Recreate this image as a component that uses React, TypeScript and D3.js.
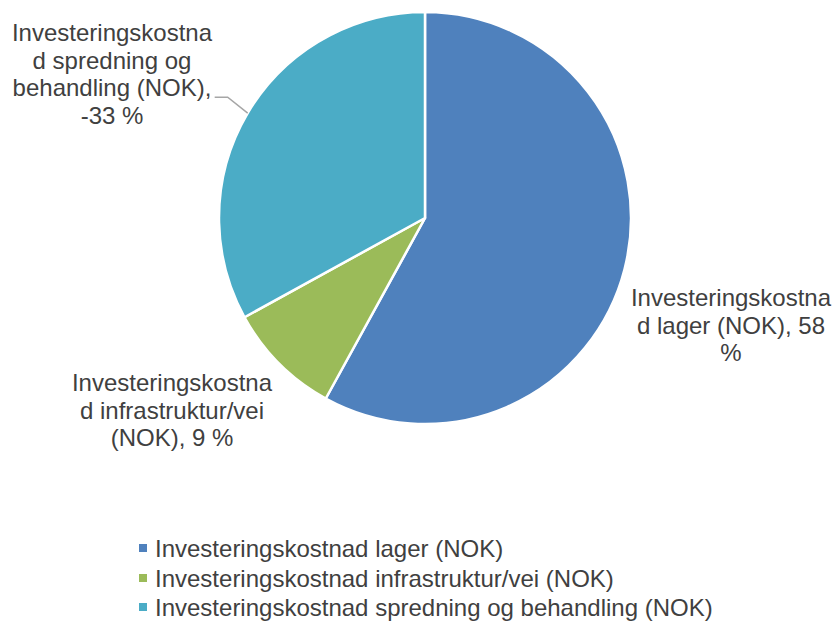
import React from "react";
import * as d3 from "d3";

const categories = [
  "Investeringskostnad lager (NOK)",
  "Investeringskostnad infrastruktur/vei (NOK)",
  "Investeringskostnad spredning og behandling (NOK)",
];
const percents = [58, 9, -33];
const colors = ["#4F81BD", "#9BBB59", "#4BACC6"];
const labelLines = [
  ["Investeringskostna", "d lager (NOK), 58", "%"],
  ["Investeringskostna", "d infrastruktur/vei", "(NOK), 9 %"],
  ["Investeringskostna", "d spredning og", "behandling (NOK),", "-33 %"],
];

const W = 833;
const H = 625;
const cx = 425;
const cy = 218;
const R = 206;
const FONT = "'Liberation Sans', Arial, sans-serif";
const FS = 24;
const LH = 27.5;

// label first-baseline offsets relative to pie centre (layout)
const labelOffsets = [
  { dx: 306, dy: 88 },
  { dx: -253, dy: 173 },
  { dx: -313, dy: -177 },
];

export default function App() {
  const pie = d3
    .pie<number>()
    .sort(null)
    .value((d) => Math.abs(d))
    .startAngle(0)
    .endAngle(2 * Math.PI);
  const arcs = pie(percents);
  const arc = d3.arc<d3.PieArcDatum<number>>().innerRadius(0).outerRadius(R);

  // leader line for the third label
  const a3 = arcs[2];
  const mid3 = (a3.startAngle + a3.endAngle) / 2;
  const lp = [Math.sin(mid3) * R, -Math.cos(mid3) * R];
  const leader = d3.line()([
    [cx + lp[0], cy + lp[1]],
    [cx + lp[0] - 20, cy + lp[1] - 16],
    [cx + lp[0] - 33, cy + lp[1] - 16],
  ]);

  const legendY = [548, 578, 607];

  return (
    <svg
      width={W}
      height={H}
      style={{ position: "absolute", left: 0, top: 0, background: "#fff" }}
      fontFamily={FONT}
    >
      <g transform={`translate(${cx},${cy})`}>
        {arcs.map((a, i) => (
          <path
            key={i}
            d={arc(a) || ""}
            fill={colors[i]}
            stroke="#fff"
            strokeWidth={2.5}
            strokeLinejoin="round"
          />
        ))}
      </g>
      <path d={leader || ""} fill="none" stroke="#A6A6A6" strokeWidth={1.5} />
      {labelLines.map((lines, i) => {
        const x = cx + labelOffsets[i].dx;
        const y0 = cy + labelOffsets[i].dy;
        return (
          <text
            key={i}
            x={x}
            y={y0}
            textAnchor="middle"
            fontSize={FS}
            fill="#404040"
          >
            {lines.map((l, j) => (
              <tspan key={j} x={x} dy={j === 0 ? 0 : LH}>
                {l}
              </tspan>
            ))}
          </text>
        );
      })}
      {categories.map((c, i) => (
        <g key={c}>
          <rect
            x={139}
            y={legendY[i] - 4}
            width={8}
            height={8}
            fill={colors[i]}
          />
          <text
            x={155}
            y={legendY[i] + 8.5}
            fontSize={FS}
            fill="#404040"
          >
            {c}
          </text>
        </g>
      ))}
    </svg>
  );
}
